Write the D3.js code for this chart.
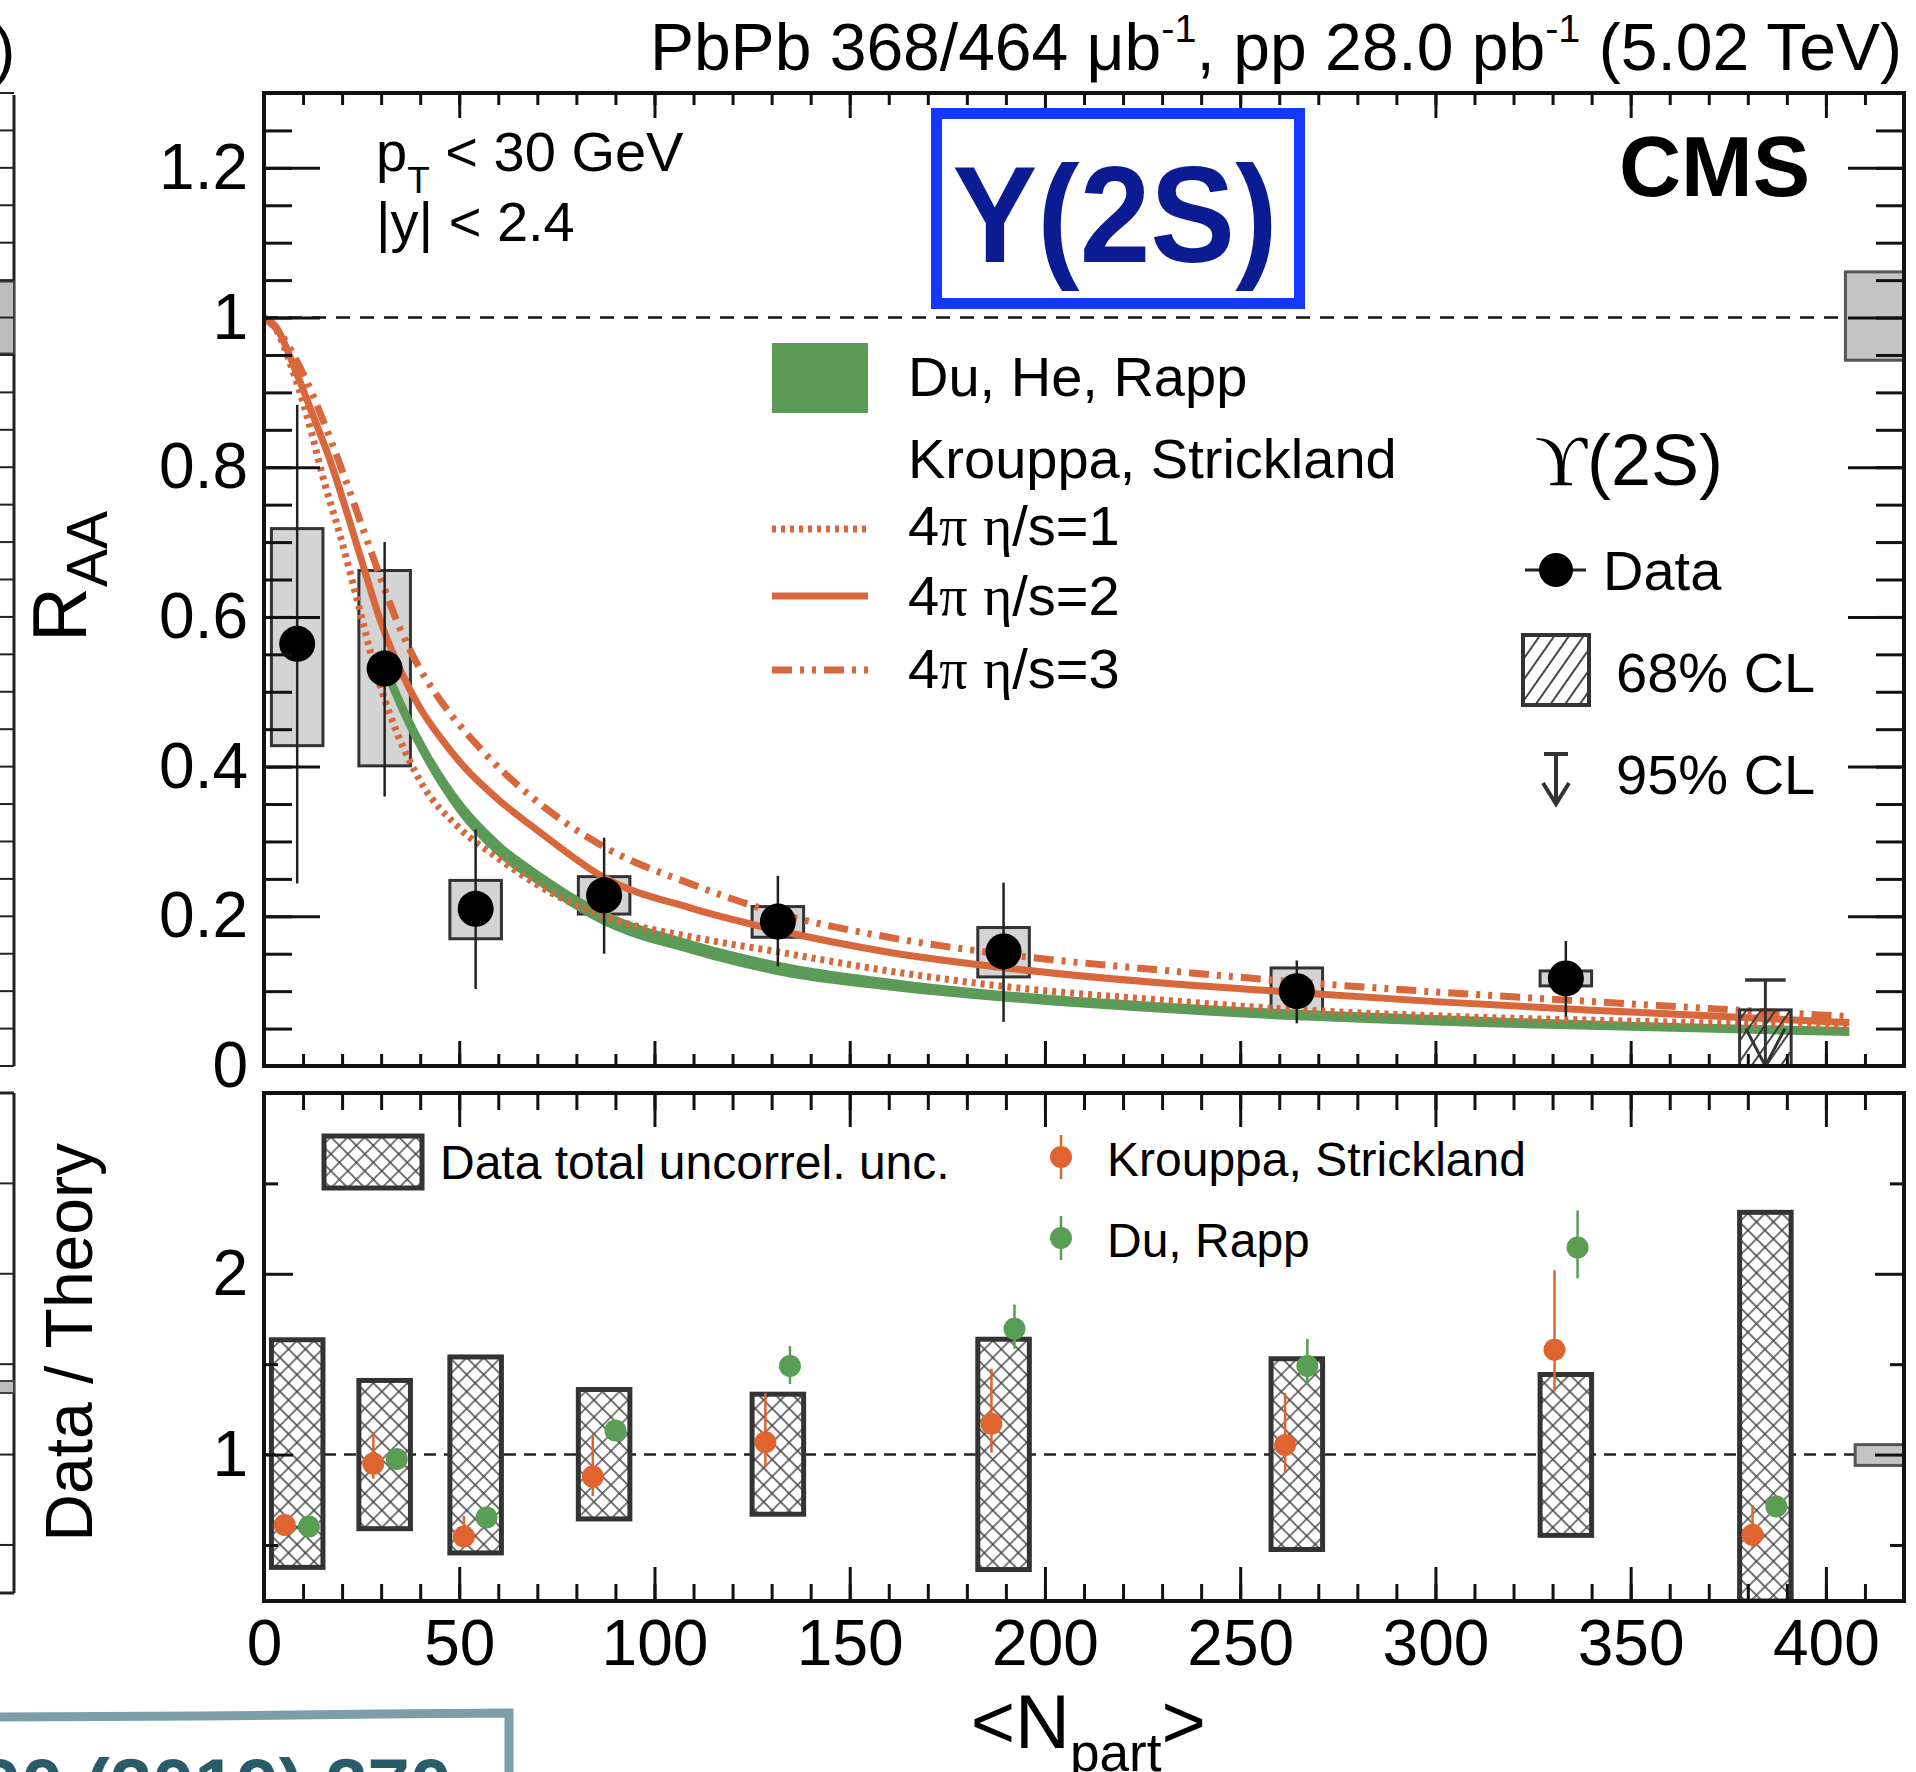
<!DOCTYPE html>
<html>
<head>
<meta charset="utf-8">
<script src="https://cdn.jsdelivr.net/npm/d3@7"></script>
<style>
body { margin: 0; background: #fff; }
svg { display: block; font-family: 'Liberation Sans', Arial, Helvetica, sans-serif; }
.tick line { stroke: #111; stroke-width: 3; }
</style>
</head>
<body>
<script>
// ---- data ----
var npart      = [8.5, 30.9, 54.2, 87.1, 131.6, 189.4, 264.5, 333.4];
var raa        = [0.564, 0.531, 0.210, 0.228, 0.193, 0.153, 0.100, 0.117];
var raaStatHi  = [0.883, 0.700, 0.316, 0.305, 0.254, 0.245, 0.141, 0.167];
var raaStatLo  = [0.244, 0.360, 0.103, 0.150, 0.133, 0.059, 0.057, 0.066];
var raaSystHi  = [0.718, 0.662, 0.248, 0.253, 0.213, 0.185, 0.131, 0.127];
var raaSystLo  = [0.428, 0.401, 0.170, 0.203, 0.172, 0.119, 0.067, 0.107];
// most central bin: upper limits only
var limitNpart = 384.5, limit68 = 0.075, limit95 = 0.115;
var globalUnc      = [0.943, 1.061];
var globalUncRatio = [0.940, 1.055];

// Krouppa, Strickland curves (Npart, RAA)
var ksEta1 = [[0,1.0],[3,0.985],[6.9,0.936],[11,0.869],[15.4,0.781],[19.7,0.705],[23.8,0.624],[28.2,0.535],[34,0.446],[40.2,0.379],[50,0.318],[60.4,0.276],[72,0.236],[87,0.200],[110,0.172],[131,0.153],[160,0.127],[190,0.106],[230,0.088],[265,0.075],[300,0.067],[350,0.060],[406,0.054]];
var ksEta2 = [[0,1.0],[3,0.988],[8.4,0.925],[12.5,0.87],[17.2,0.805],[21.5,0.735],[25.6,0.665],[30,0.592],[35,0.528],[40,0.478],[45,0.440],[51.2,0.400],[60,0.356],[70,0.315],[87,0.252],[110,0.210],[131,0.182],[160,0.152],[190,0.131],[230,0.111],[265,0.098],[300,0.086],[350,0.072],[406,0.058]];
var ksEta3 = [[0,1.0],[4,0.98],[10.2,0.923],[17.2,0.835],[25.6,0.714],[30,0.650],[34,0.595],[40,0.530],[44.3,0.495],[55.6,0.423],[68.4,0.360],[87,0.293],[110,0.242],[131,0.205],[160,0.172],[190,0.149],[230,0.128],[265,0.112],[300,0.099],[350,0.083],[406,0.066]];

// Du, He, Rapp band
var rappNpart = [30, 32.5, 38.4, 48.7, 60.4, 70, 87, 110, 131, 160, 190, 230, 265, 300, 350, 406];
var rappHi    = [0.558, 0.527, 0.459, 0.368, 0.300, 0.262, 0.208, 0.167, 0.140, 0.117, 0.100, 0.085, 0.075, 0.068, 0.059, 0.052];
var rappLo    = [0.532, 0.499, 0.433, 0.344, 0.278, 0.242, 0.188, 0.149, 0.122, 0.101, 0.086, 0.071, 0.061, 0.054, 0.047, 0.040];

// Data / Theory panel
var ratioNpart = [8.5, 30.9, 54.2, 87.1, 131.6, 189.4, 264.5, 333.4, 384.5];
var ratioBoxHi = [1.635, 1.410, 1.540, 1.360, 1.334, 1.638, 1.530, 1.443, 2.340];
var ratioBoxLo = [0.376, 0.590, 0.456, 0.644, 0.670, 0.364, 0.475, 0.553, 0.190];
var ksRatioX  = [5.3, 28, 51.2, 84.2, 128.4, 186.3, 261.5, 330.5, 381.2];
var ksRatio   = [0.610, 0.950, 0.547, 0.878, 1.068, 1.171, 1.053, 1.580, 0.556];
var ksRatioHi = [0.640, 1.120, 0.660, 1.110, 1.340, 1.475, 1.340, 2.020, 0.720];
var ksRatioLo = [0.580, 0.867, 0.500, 0.770, 0.930, 1.010, 0.900, 1.350, 0.486];
var drRatioX  = [11.5, 34, 57, 90, 134.7, 192.2, 267.2, 336.4, 387.3];
var drRatio   = [0.602, 0.975, 0.652, 1.133, 1.490, 1.696, 1.490, 2.145, 0.713];
var drRatioHi = [0.620, 0.990, 0.670, 1.150, 1.600, 1.830, 1.640, 2.350, 0.730];
var drRatioLo = [0.585, 0.960, 0.635, 1.115, 1.390, 1.585, 1.390, 1.975, 0.695];

var xTicksMajor = d3.range(0, 401, 50);
var xTicksMinor = d3.range(0, 421, 10);
var yTopMajor = [0, 0.2, 0.4, 0.6, 0.8, 1.0, 1.2];
var yTopMinor = d3.range(0, 1.3, 0.05);
var yBotMajor = [1, 2];
var yBotMinor = [0.5, 1.5, 2.5];

// ---- layout ----
var W = 1916, H = 1772;
var left = 264, right = 1904;
var top1 = 93, bot1 = 1066, top2 = 1093, bot2 = 1601;
var boxHalf = 6.6;
var orange = "#d8673b", green = "#5b9a57";
var sans = "'Liberation Sans', Arial, Helvetica, sans-serif";
var serif = "'Liberation Serif', 'DejaVu Serif', serif";

var x = d3.scaleLinear().domain([0, 420]).range([left, right]);
var yT = d3.scaleLinear().domain([0, 1.3]).range([bot1, top1]);
var yB = d3.scaleLinear().domain([0.19, 3.0]).range([bot2, top2]);
var boxW = x(2 * boxHalf) - x(0);

var svg = d3.select("body").append("svg")
    .attr("width", W).attr("height", H);
svg.append("rect").attr("width", W).attr("height", H).attr("fill", "#fff");

var defs = svg.append("defs");
defs.append("clipPath").attr("id", "clipTop")
  .append("rect").attr("x", left).attr("y", top1).attr("width", right - left).attr("height", bot1 - top1);
defs.append("clipPath").attr("id", "clipBot")
  .append("rect").attr("x", left).attr("y", top2).attr("width", right - left).attr("height", bot2 - top2);
defs.append("pattern").attr("id", "hatch").attr("patternUnits", "userSpaceOnUse")
    .attr("width", 12).attr("height", 12).attr("patternTransform", "rotate(35)")
  .append("path").attr("d", "M6,0V12").attr("stroke", "#333").attr("stroke-width", 1.8);
var cross = defs.append("pattern").attr("id", "cross").attr("patternUnits", "userSpaceOnUse")
    .attr("width", 12).attr("height", 12).attr("patternTransform", "rotate(45)");
cross.append("rect").attr("width", 12).attr("height", 12).attr("fill", "#fff");
cross.append("path").attr("d", "M0,6H12M6,0V12").attr("stroke", "#444").attr("stroke-width", 1.4);

// text with sub/superscripts
function label(g, xp, yp, parts, o) {
  o = o || {};
  var fs = o.size || 56;
  var t = g.append("text").attr("x", xp).attr("y", yp)
      .attr("font-size", fs).attr("text-anchor", o.anchor || "start")
      .attr("font-weight", o.weight || null).attr("fill", o.fill || "#000");
  if (o.transform) t.attr("transform", o.transform);
  if (o.length) t.attr("textLength", o.length).attr("lengthAdjust", "spacingAndGlyphs");
  var shift = 0;
  parts.forEach(function(p) {
    var kind = p[1] || "";
    var target = kind === "sub" ? fs * (o.subShift || 0.3) : kind === "sup" ? -fs * (o.supShift || 0.5) : 0;
    var ts = t.append("tspan").attr("dy", target - shift).text(p[0]);
    if (kind) ts.attr("font-size", fs * (o.subScale || 0.65));
    if (p[2]) ts.attr("font-family", p[2]);
    shift = target;
  });
  return t;
}

function axis(g, fn, scale, values, size, tr, fmt, fs, pad) {
  var a = fn(scale).tickValues(values).tickSize(size).tickPadding(pad || 0).tickFormat(fmt || "");
  var s = g.append("g").attr("transform", tr).call(a);
  s.select(".domain").remove();
  s.attr("font-family", sans).attr("font-size", fs || 10);
  return s;
}

// ---- neighbour panel sliver on the left ----
var nb = svg.append("g");
nb.append("line").attr("x1", 14).attr("x2", 14).attr("y1", 95).attr("y2", bot1).attr("stroke", "#222").attr("stroke-width", 3);
nb.append("line").attr("x1", 14).attr("x2", 14).attr("y1", top2).attr("y2", 1593).attr("stroke", "#222").attr("stroke-width", 3);
nb.append("rect").attr("x", -2).attr("y", yT(1.048)).attr("width", 16).attr("height", yT(0.952) - yT(1.048))
  .attr("fill", "#bdbdbd").attr("stroke", "#444").attr("stroke-width", 2);
nb.append("rect").attr("x", -2).attr("y", 1381).attr("width", 16).attr("height", 12)
  .attr("fill", "#bdbdbd").attr("stroke", "#444").attr("stroke-width", 2);
nb.selectAll("line.nt").data(yTopMinor.concat([1.3])).enter().append("line")
  .attr("x1", 0).attr("x2", 14).attr("y1", function(d){ return yT(d); }).attr("y2", function(d){ return yT(d); })
  .attr("stroke", "#222").attr("stroke-width", 2);
nb.selectAll("line.nb").data([0.5, 1, 1.5, 2, 2.5]).enter().append("line")
  .attr("x1", 0).attr("x2", 14).attr("y1", function(d){ return yB(d); }).attr("y2", function(d){ return yB(d); })
  .attr("stroke", "#222").attr("stroke-width", 2);
nb.append("line").attr("x1", 0).attr("x2", 14).attr("y1", top2).attr("y2", top2).attr("stroke", "#222").attr("stroke-width", 3);
nb.append("line").attr("x1", 0).attr("x2", 14).attr("y1", 1593).attr("y2", 1593).attr("stroke", "#222").attr("stroke-width", 3);
label(nb, -6, 72, [[")"]], { size: 64 });

// ---- top panel ----
var gT = svg.append("g");
var pT = gT.append("g").attr("clip-path", "url(#clipTop)");

pT.append("line").attr("x1", left).attr("x2", right).attr("y1", yT(1)).attr("y2", yT(1))
  .attr("stroke", "#111").attr("stroke-width", 2.5).attr("stroke-dasharray", "14,10");

// global uncertainty box
pT.append("rect").attr("x", x(405)).attr("width", x(420) - x(405))
  .attr("y", yT(globalUnc[1])).attr("height", yT(globalUnc[0]) - yT(globalUnc[1]))
  .attr("fill", "#c4c4c4").attr("stroke", "#555").attr("stroke-width", 3);

// systematic boxes
pT.selectAll("rect.syst").data(npart).enter().append("rect")
  .attr("x", function(d){ return x(d - boxHalf); })
  .attr("width", boxW)
  .attr("y", function(d, i){ return yT(raaSystHi[i]); })
  .attr("height", function(d, i){ return yT(raaSystLo[i]) - yT(raaSystHi[i]); })
  .attr("fill", "#b0b0b0").attr("fill-opacity", 0.55)
  .attr("stroke", "#333").attr("stroke-width", 3);

// theory: Du, He, Rapp band
var band = d3.area()
  .x(function(i){ return x(rappNpart[i]); })
  .y0(function(i){ return yT(rappLo[i]); })
  .y1(function(i){ return yT(rappHi[i]); })
  .curve(d3.curveMonotoneX);
pT.append("path").attr("d", band(d3.range(rappNpart.length))).attr("fill", green);

var line = d3.line().x(function(d){ return x(d[0]); }).y(function(d){ return yT(d[1]); }).curve(d3.curveMonotoneX);
var dashEta1 = "4,5", dashEta3 = "20,8,4,8,4,8";
pT.append("path").attr("d", line(ksEta1)).attr("fill", "none").attr("stroke", orange).attr("stroke-width", 7).attr("stroke-dasharray", dashEta1);
pT.append("path").attr("d", line(ksEta2)).attr("fill", "none").attr("stroke", orange).attr("stroke-width", 7);
pT.append("path").attr("d", line(ksEta3)).attr("fill", "none").attr("stroke", orange).attr("stroke-width", 7).attr("stroke-dasharray", dashEta3);

// upper limit
pT.append("rect").attr("x", x(limitNpart - boxHalf)).attr("width", boxW)
  .attr("y", yT(limit68)).attr("height", yT(0) - yT(limit68))
  .attr("fill", "url(#hatch)").attr("stroke", "#333").attr("stroke-width", 3);
pT.append("line").attr("x1", x(limitNpart)).attr("x2", x(limitNpart)).attr("y1", yT(limit95)).attr("y2", yT(0))
  .attr("stroke", "#333").attr("stroke-width", 3);
pT.append("line").attr("x1", x(limitNpart - 5.2)).attr("x2", x(limitNpart + 5.2)).attr("y1", yT(limit95)).attr("y2", yT(limit95))
  .attr("stroke", "#333").attr("stroke-width", 3.5);
pT.append("path").attr("d", "M" + x(limitNpart - 5) + "," + yT(0.05) + "L" + x(limitNpart) + "," + yT(0) + "L" + x(limitNpart + 5) + "," + yT(0.05))
  .attr("fill", "none").attr("stroke", "#333").attr("stroke-width", 3);

// data points
pT.selectAll("line.stat").data(npart).enter().append("line")
  .attr("x1", function(d){ return x(d); }).attr("x2", function(d){ return x(d); })
  .attr("y1", function(d, i){ return yT(raaStatHi[i]); })
  .attr("y2", function(d, i){ return yT(raaStatLo[i]); })
  .attr("stroke", "#222").attr("stroke-width", 2.5);
pT.selectAll("circle.pt").data(npart).enter().append("circle")
  .attr("cx", function(d){ return x(d); }).attr("cy", function(d, i){ return yT(raa[i]); })
  .attr("r", 18).attr("fill", "#000");

// axes top panel
axis(gT, d3.axisBottom, x, xTicksMajor, -25, "translate(0," + bot1 + ")");
axis(gT, d3.axisBottom, x, xTicksMinor, -12, "translate(0," + bot1 + ")");
axis(gT, d3.axisTop, x, xTicksMajor, -25, "translate(0," + top1 + ")");
axis(gT, d3.axisTop, x, xTicksMinor, -12, "translate(0," + top1 + ")");
axis(gT, d3.axisLeft, yT, yTopMajor, -56, "translate(" + left + ",0)", d3.format("~g"), 64, 16);
axis(gT, d3.axisLeft, yT, yTopMinor, -28, "translate(" + left + ",0)");
axis(gT, d3.axisRight, yT, yTopMajor, -56, "translate(" + right + ",0)");
axis(gT, d3.axisRight, yT, yTopMinor, -28, "translate(" + right + ",0)");
gT.append("rect").attr("x", left).attr("y", top1).attr("width", right - left).attr("height", bot1 - top1)
  .attr("fill", "none").attr("stroke", "#111").attr("stroke-width", 4);

// texts top panel
label(svg, 1902, 70, [["PbPb 368/464 \u03bcb"], ["-1", "sup"], [", pp 28.0 pb"], ["-1", "sup"], [" (5.02 TeV)"]],
  { size: 66, anchor: "end", subScale: 0.6, supShift: 0.42 });
label(gT, 1810, 196, [["CMS"]], { size: 86, anchor: "end", weight: "bold" });
label(gT, 376, 171, [["p"], ["T", "sub"], [" < 30 GeV"]], { size: 56, subShift: 0.4, subScale: 0.66 });
label(gT, 376, 241, [["|y| < 2.4"]], { size: 56 });
label(svg, 86, 511, [["R"], ["AA", "sub"]], { size: 76, anchor: "end", transform: "rotate(-90,86,511)", subShift: 0.28, subScale: 0.75 });

gT.append("rect").attr("x", 936.5).attr("y", 113.5).attr("width", 363).attr("height", 190)
  .attr("fill", "none").attr("stroke", "#1438ff").attr("stroke-width", 11);
label(gT, 1115, 262, [["Y(2S)"]], { size: 138, anchor: "middle", weight: "bold", fill: "#0b1c92", length: 325 });

// legend left
var lg = gT.append("g");
lg.append("rect").attr("x", 772).attr("y", 343).attr("width", 96).attr("height", 70).attr("fill", green);
lg.append("line").attr("x1", 772).attr("x2", 868).attr("y1", 529).attr("y2", 529).attr("stroke", orange).attr("stroke-width", 7).attr("stroke-dasharray", dashEta1);
lg.append("line").attr("x1", 772).attr("x2", 868).attr("y1", 596).attr("y2", 596).attr("stroke", orange).attr("stroke-width", 7);
lg.append("line").attr("x1", 772).attr("x2", 868).attr("y1", 670).attr("y2", 670).attr("stroke", orange).attr("stroke-width", 7).attr("stroke-dasharray", dashEta3);
label(lg, 908, 396, [["Du, He, Rapp"]]);
label(lg, 908, 478, [["Krouppa, Strickland"]]);
label(lg, 908, 545, [["4"], ["\u03c0", "", serif], [" "], ["\u03b7", "", serif], ["/s=1"]]);
label(lg, 908, 615, [["4"], ["\u03c0", "", serif], [" "], ["\u03b7", "", serif], ["/s=2"]]);
label(lg, 908, 688, [["4"], ["\u03c0", "", serif], [" "], ["\u03b7", "", serif], ["/s=3"]]);

// legend right
var lr = gT.append("g");
label(lr, 1535, 485, [["\u03d2", "", serif], ["(2S)"]], { size: 72 });
lr.append("line").attr("x1", 1525).attr("x2", 1586).attr("y1", 570).attr("y2", 570).attr("stroke", "#222").attr("stroke-width", 3);
lr.append("circle").attr("cx", 1556).attr("cy", 570).attr("r", 17).attr("fill", "#000");
label(lr, 1603, 590, [["Data"]]);
lr.append("rect").attr("x", 1523).attr("y", 635).attr("width", 66).attr("height", 70)
  .attr("fill", "url(#hatch)").attr("stroke", "#333").attr("stroke-width", 4);
label(lr, 1616, 692, [["68% CL"]]);
lr.append("path").attr("d", "M1544,754H1568M1556,754V804M1543,783L1556,804L1569,783")
  .attr("fill", "none").attr("stroke", "#333").attr("stroke-width", 4);
label(lr, 1616, 794, [["95% CL"]]);

// ---- bottom panel ----
var gB = svg.append("g");
var pB = gB.append("g").attr("clip-path", "url(#clipBot)");
pB.append("line").attr("x1", left).attr("x2", right).attr("y1", yB(1)).attr("y2", yB(1))
  .attr("stroke", "#222").attr("stroke-width", 2.5).attr("stroke-dasharray", "12,8");
pB.append("rect").attr("x", x(407.5)).attr("width", x(420) - x(407.5))
  .attr("y", yB(globalUncRatio[1])).attr("height", yB(globalUncRatio[0]) - yB(globalUncRatio[1]))
  .attr("fill", "#c4c4c4").attr("stroke", "#555").attr("stroke-width", 3);
pB.selectAll("rect.rb").data(ratioNpart).enter().append("rect")
  .attr("x", function(d){ return x(d - boxHalf); })
  .attr("width", boxW)
  .attr("y", function(d, i){ return yB(ratioBoxHi[i]); })
  .attr("height", function(d, i){ return yB(ratioBoxLo[i]) - yB(ratioBoxHi[i]); })
  .attr("fill", "url(#cross)").attr("stroke", "#333").attr("stroke-width", 5);

function ratioPoints(xs, vs, hi, lo, col) {
  pB.selectAll(null).data(xs).enter().append("line")
    .attr("x1", function(d){ return x(d); }).attr("x2", function(d){ return x(d); })
    .attr("y1", function(d, i){ return yB(hi[i]); }).attr("y2", function(d, i){ return yB(lo[i]); })
    .attr("stroke", col).attr("stroke-width", 2.5);
  pB.selectAll(null).data(xs).enter().append("circle")
    .attr("cx", function(d){ return x(d); }).attr("cy", function(d, i){ return yB(vs[i]); })
    .attr("r", 11).attr("fill", col);
}
ratioPoints(ksRatioX, ksRatio, ksRatioHi, ksRatioLo, "#e0642f");
ratioPoints(drRatioX, drRatio, drRatioHi, drRatioLo, "#5a9e56");

axis(gB, d3.axisBottom, x, xTicksMajor, -34, "translate(0," + bot2 + ")", d3.format("d"), 64, 19);
axis(gB, d3.axisBottom, x, xTicksMinor, -17, "translate(0," + bot2 + ")");
axis(gB, d3.axisTop, x, xTicksMajor, -34, "translate(0," + top2 + ")");
axis(gB, d3.axisTop, x, xTicksMinor, -17, "translate(0," + top2 + ")");
axis(gB, d3.axisLeft, yB, yBotMajor, -29, "translate(" + left + ",0)", d3.format("d"), 64, 16);
axis(gB, d3.axisLeft, yB, yBotMinor, -14, "translate(" + left + ",0)");
axis(gB, d3.axisRight, yB, yBotMajor, -29, "translate(" + right + ",0)");
axis(gB, d3.axisRight, yB, yBotMinor, -14, "translate(" + right + ",0)");
gB.append("rect").attr("x", left).attr("y", top2).attr("width", right - left).attr("height", bot2 - top2)
  .attr("fill", "none").attr("stroke", "#111").attr("stroke-width", 4);

// legend bottom
gB.append("rect").attr("x", 324).attr("y", 1136).attr("width", 98).attr("height", 52)
  .attr("fill", "url(#cross)").attr("stroke", "#333").attr("stroke-width", 5);
label(gB, 440, 1179, [["Data total uncorrel. unc."]], { size: 48 });
gB.append("line").attr("x1", 1061).attr("x2", 1061).attr("y1", 1135).attr("y2", 1179).attr("stroke", "#e0642f").attr("stroke-width", 2.5);
gB.append("circle").attr("cx", 1061).attr("cy", 1157).attr("r", 11).attr("fill", "#e0642f");
label(gB, 1107, 1176, [["Krouppa, Strickland"]], { size: 48 });
gB.append("line").attr("x1", 1061).attr("x2", 1061).attr("y1", 1216).attr("y2", 1260).attr("stroke", "#5a9e56").attr("stroke-width", 2.5);
gB.append("circle").attr("cx", 1061).attr("cy", 1238).attr("r", 11).attr("fill", "#5a9e56");
label(gB, 1107, 1257, [["Du, Rapp"]], { size: 48 });

label(svg, 92, 1143, [["Data / Theory"]], { size: 66, anchor: "end", transform: "rotate(-90,92,1143)" });
label(svg, 1206, 1748, [["<N"], ["part", "sub"], [">"]], { size: 76, anchor: "end", subScale: 0.7 });

// ---- citation box cut at the bottom-left ----
svg.append("path").attr("d", "M-5,1717 L200,1716 L380,1714 L509,1713 L509,1780")
  .attr("fill", "none").attr("stroke", "#7c9ea8").attr("stroke-width", 9);
label(svg, 452, 1812, [["PLB 790 (2019) 270"]], { size: 76, anchor: "end", weight: "bold", fill: "#2a5b68" });
</script>
</body>
</html>
